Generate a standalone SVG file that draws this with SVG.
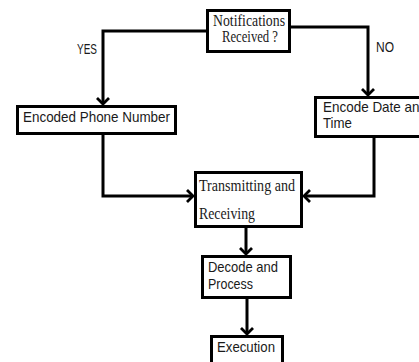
<svg xmlns="http://www.w3.org/2000/svg" width="419" height="362" viewBox="0 0 419 362">
<style>
.box{fill:#fff;stroke:#000;stroke-width:3}
.line{fill:none;stroke:#000;stroke-width:3}
.sans{font-family:"Liberation Sans",Arial,sans-serif;font-size:14.5px;fill:#1a1a1a}
.serif{font-family:"Liberation Serif","Times New Roman",serif;font-size:16px;fill:#1a1a1a}
</style>
<defs>
<marker id="ah" markerUnits="userSpaceOnUse" viewBox="-9 -8 11 16" refX="0" refY="0" markerWidth="11" markerHeight="16" orient="auto" overflow="visible">
<path d="M-6,-6 L0,0 L-6,6" fill="none" stroke="#000" stroke-width="2.8"/>
</marker>
</defs>
<rect width="419" height="362" fill="#fff"/>
<g id="connectors">
<polyline class="line" points="207,31 103,31 103,104" marker-end="url(#ah)"/>
<polyline class="line" points="290,27 368,27 368,95" marker-end="url(#ah)"/>
<polyline class="line" points="103,134 103,196 193,196" marker-end="url(#ah)"/>
<polyline class="line" points="374,137 374,196 304,196" marker-end="url(#ah)"/>
<polyline class="line" points="246,227 246,254" marker-end="url(#ah)"/>
<polyline class="line" points="247,298 247,334" marker-end="url(#ah)"/>
<text class="sans" x="77" y="54" textLength="20" lengthAdjust="spacingAndGlyphs">YES</text>
<text class="sans" x="376" y="52" textLength="18" lengthAdjust="spacingAndGlyphs">NO</text>
</g>
<g id="node-notifications">
<rect class="box" x="207.5" y="10.5" width="82" height="41"/>
<text class="serif" x="213" y="26" font-size="15" textLength="72" lengthAdjust="spacingAndGlyphs">Notifications</text>
<text class="serif" x="222" y="42" font-size="15" textLength="56" lengthAdjust="spacingAndGlyphs">Received ?</text>
</g>
<g id="node-encoded-phone">
<rect class="box" x="17.5" y="106.5" width="158" height="27"/>
<text class="sans" x="23" y="122" textLength="147" lengthAdjust="spacingAndGlyphs">Encoded  Phone Number</text>
</g>
<g id="node-encode-date">
<rect class="box" x="315.5" y="97.5" width="120" height="39"/>
<text class="sans" x="323" y="112" textLength="104" lengthAdjust="spacingAndGlyphs">Encode Date and</text>
<text class="sans" x="323" y="128" textLength="29" lengthAdjust="spacingAndGlyphs">Time</text>
</g>
<g id="node-transmitting">
<rect class="box" x="195.5" y="172.5" width="106" height="54"/>
<text class="serif" x="199" y="191" textLength="96" lengthAdjust="spacingAndGlyphs">Transmitting and</text>
<text class="serif" x="199" y="219" textLength="56" lengthAdjust="spacingAndGlyphs">Receiving</text>
</g>
<g id="node-decode">
<rect class="box" x="202.5" y="256.5" width="88" height="41"/>
<text class="sans" x="208" y="272" textLength="70" lengthAdjust="spacingAndGlyphs">Decode and</text>
<text class="sans" x="208" y="289" textLength="45" lengthAdjust="spacingAndGlyphs">Process</text>
</g>
<g id="node-execution">
<rect class="box" x="211.5" y="336.5" width="71" height="30"/>
<text class="sans" x="217" y="352" textLength="58" lengthAdjust="spacingAndGlyphs">Execution</text>
</g>
</svg>
